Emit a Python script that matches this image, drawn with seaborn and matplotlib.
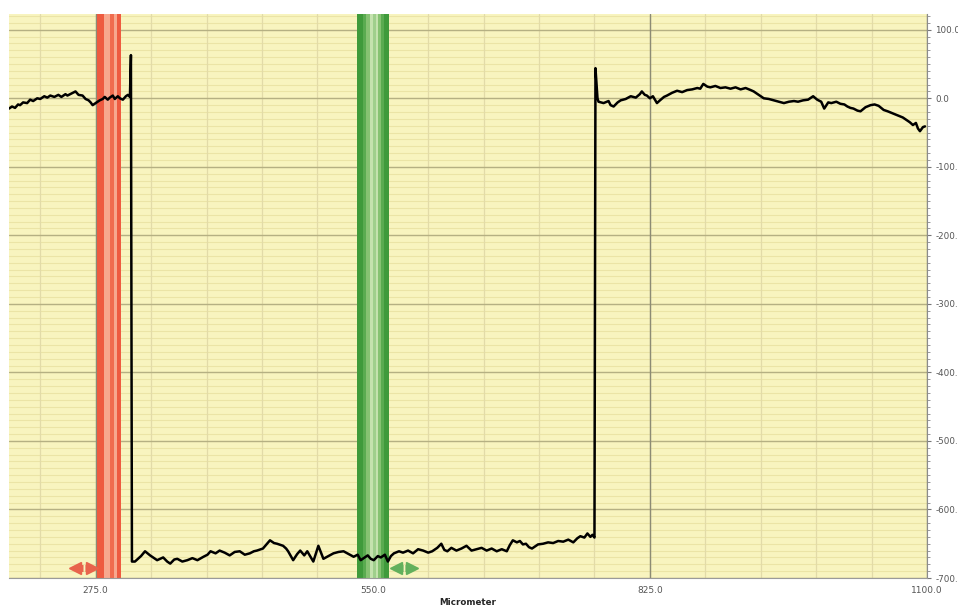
import numpy as np
import pandas as pd
import matplotlib.pyplot as plt
import seaborn as sns

# profile (Micrometer vs height)
left_x = [189, 192, 195, 198, 200, 203, 207, 210, 213, 217, 220, 224, 227, 230, 234, 238,
          241, 245, 247, 251, 255, 258, 262, 265, 268, 270, 272, 275, 279, 282, 284, 287,
          289, 292, 294, 297, 299, 302, 305, 307, 309, 310]
left_y = [-15, -12, -14, -9, -10, -6, -7, -2, -4, 0, -1, 3, 1, 4, 2, 5,
          2, 6, 4, 7, 10, 5, 4, -1, -3, -6, -10, -7, -3, -1, 2, -2,
          1, 4, -1, 3, 0, -2, 3, 5, 2, 63]

floor_x = [311, 314, 317, 320, 324, 329, 332, 336, 342, 346, 349, 353, 356, 361, 366, 371,
           376, 382, 386, 389, 394, 398, 403, 408, 413, 418, 423, 428, 432, 435, 441, 445,
           448, 452, 455, 461, 464, 466, 471, 475, 478, 482, 485, 491, 496, 501, 506, 511,
           516, 521, 526, 531, 535, 538, 542, 545, 548, 551, 555, 558, 562, 565, 568, 571,
           576, 580, 585, 590, 595, 600, 605, 609, 614, 618, 621, 624, 628, 633, 638, 643,
           648, 653, 658, 663, 668, 673, 678, 683, 686, 689, 693, 696, 699, 702, 705, 708,
           714, 719, 724, 729, 734, 739, 744, 749, 753, 756, 760, 763, 766, 768, 770, 771]
floor_y = [-676, -676, -672, -668, -661, -667, -670, -674, -670, -676, -679, -673, -672, -676, -674, -671,
           -674, -669, -666, -661, -664, -660, -663, -667, -662, -661, -666, -664, -661, -660, -657, -650,
           -645, -649, -650, -653, -657, -661, -674, -665, -660, -667, -661, -676, -653, -672, -668, -664,
           -662, -661, -665, -669, -666, -674, -670, -667, -672, -674, -668, -670, -666, -676, -668, -664,
           -661, -663, -660, -664, -658, -660, -663, -661, -656, -650, -659, -661, -656, -660, -657, -653,
           -660, -658, -656, -660, -657, -661, -658, -661, -652, -645, -648, -646, -651, -650, -655, -657,
           -651, -650, -648, -649, -646, -647, -644, -648, -642, -639, -641, -635, -640, -637, -641, 44]

right_x = [773, 774, 779, 784, 786, 789, 793, 796, 801, 806, 811, 815, 817, 820, 822, 825,
           828, 832, 835, 839, 842, 847, 852, 857, 862, 867, 872, 875, 878, 882, 885, 890,
           895, 900, 905, 910, 915, 920, 925, 928, 933, 938, 943, 948, 953, 958, 963, 968,
           972, 977, 982, 987, 991, 995, 998, 1002, 1005, 1010, 1014, 1018, 1021, 1024, 1027, 1031,
           1034, 1039, 1044, 1048, 1052, 1057, 1061, 1066, 1071, 1076, 1080, 1083, 1086, 1089, 1091, 1093,
           1096, 1098]
right_y = [0, -5, -7, -4, -10, -12, -6, -3, -1, 3, 1, 6, 10, 5, 4, 0,
           3, -7, -3, 2, 4, 8, 11, 9, 12, 13, 15, 14, 21, 17, 16, 18,
           15, 16, 14, 16, 13, 15, 12, 10, 5, 0, -1, -3, -5, -7, -5, -4,
           -5, -3, -2, 3, -2, -5, -15, -6, -7, -5, -8, -9, -12, -14, -15, -18,
           -19, -13, -10, -9, -11, -17, -19, -22, -25, -28, -32, -35, -39, -36, -44, -48,
           -42, -41]

x_ticks = [275, 550, 825, 1100]
y_ticks = [100, 0, -100, -200, -300, -400, -500, -600, -700]

# cursor bands and their arrows
red_band = (276.4, 300.2)
green_band = (534.6, 566.3)
red_arrow = (251.5, 274.5)
green_arrow = (570.0, 592.0)
arrow_level = -686

df = pd.DataFrame({"Micrometer": left_x + floor_x + right_x,
                   "Height": left_y + floor_y + right_y})

sns.set_style("white")
fig = plt.figure(figsize=(9.58, 6.10), dpi=100)
ax = fig.add_axes([9 / 958, 32 / 610, 918 / 958, 564 / 610])
ax.set_facecolor("#f8f4bf")

ax.set_xlim(189, 1100)
ax.set_ylim(-700, 123)

# grid: faint minor lines, darker major ones
for yv in range(-700, 124, 10):
    ax.axhline(yv, color="#ebe4a6", lw=0.8, zorder=0)
for xv in range(220, 1100, 55):
    ax.axvline(xv, color="#e2dba8", lw=0.9, zorder=0)
for yv in y_ticks:
    ax.axhline(yv, color="#b5b083", lw=1.0, zorder=0.5)
for xv in x_ticks:
    ax.axvline(xv, color="#8c8b74", lw=1.0, zorder=0.5)

# red cursor band
ax.axvspan(*red_band, color="#f7a88e", lw=0, zorder=1)
ax.axvspan(276.4, 283.0, color="#ee5b40", lw=0, zorder=1)
ax.axvspan(289.0, 293.0, color="#f06c4e", lw=0, zorder=1)
ax.axvspan(296.2, 300.2, color="#ee5b40", lw=0, zorder=1)

# green cursor band, dark edges fading to the middle
ax.axvspan(*green_band, color="#c4e2ae", lw=0, zorder=1)
green_steps = [("#3f9a3b", 534.6, 540.0, 561.0, 566.3),
               ("#5aab50", 540.0, 543.5, 558.0, 561.0),
               ("#86c272", 543.5, 547.0, 555.5, 558.0)]
for col, a, b, c, d in green_steps:
    ax.axvspan(a, b, color=col, lw=0, zorder=1)
    ax.axvspan(c, d, color=col, lw=0, zorder=1)
ax.axvspan(550.0, 553.0, color="#9fcf8c", lw=0, zorder=1)

sns.lineplot(data=df, x="Micrometer", y="Height", ax=ax, color="black",
             lw=1.8, sort=False, estimator=None, zorder=3)

# double arrows under the bands
for (a, b), col in [(red_arrow, "#e8644c"), (green_arrow, "#62b05c")]:
    mid = (a + b) / 2
    ax.plot([a + 4, mid - 1.0], [arrow_level, arrow_level], color=col, lw=5, zorder=4,
            solid_capstyle="butt")
    ax.plot([mid + 1.0, b - 4], [arrow_level, arrow_level], color=col, lw=5, zorder=4,
            solid_capstyle="butt")
    ax.plot([a + 3], [arrow_level], marker="<", ms=8, color=col, zorder=4)
    ax.plot([b - 3], [arrow_level], marker=">", ms=8, color=col, zorder=4)

# axes styling
ax.yaxis.tick_right()
ax.set_yticks(y_ticks)
ax.set_yticklabels([f"{v:.1f}" for v in y_ticks])
ax.set_yticks(range(-700, 124, 10), minor=True)
ax.set_xticks(x_ticks)
ax.set_xticklabels([f"{v:.1f}" for v in x_ticks])
ax.tick_params(axis="y", which="major", length=3, color="#777777", labelsize=6.3,
               labelcolor="#555555", pad=3, right=True, left=False)
ax.tick_params(axis="y", which="minor", length=2, color="#888888", right=True, left=False)
ax.tick_params(axis="x", length=0, labelsize=6.5, labelcolor="#555555", pad=6)
ax.set_xlabel("Micrometer", fontsize=6.3, fontweight="bold", labelpad=2)
ax.set_ylabel("")

for side in ["left", "top"]:
    ax.spines[side].set_visible(False)
ax.spines["right"].set_color("#8c8c8c")
ax.spines["bottom"].set_color("#9a9a9a")

fig.savefig("out.png", dpi=100)
